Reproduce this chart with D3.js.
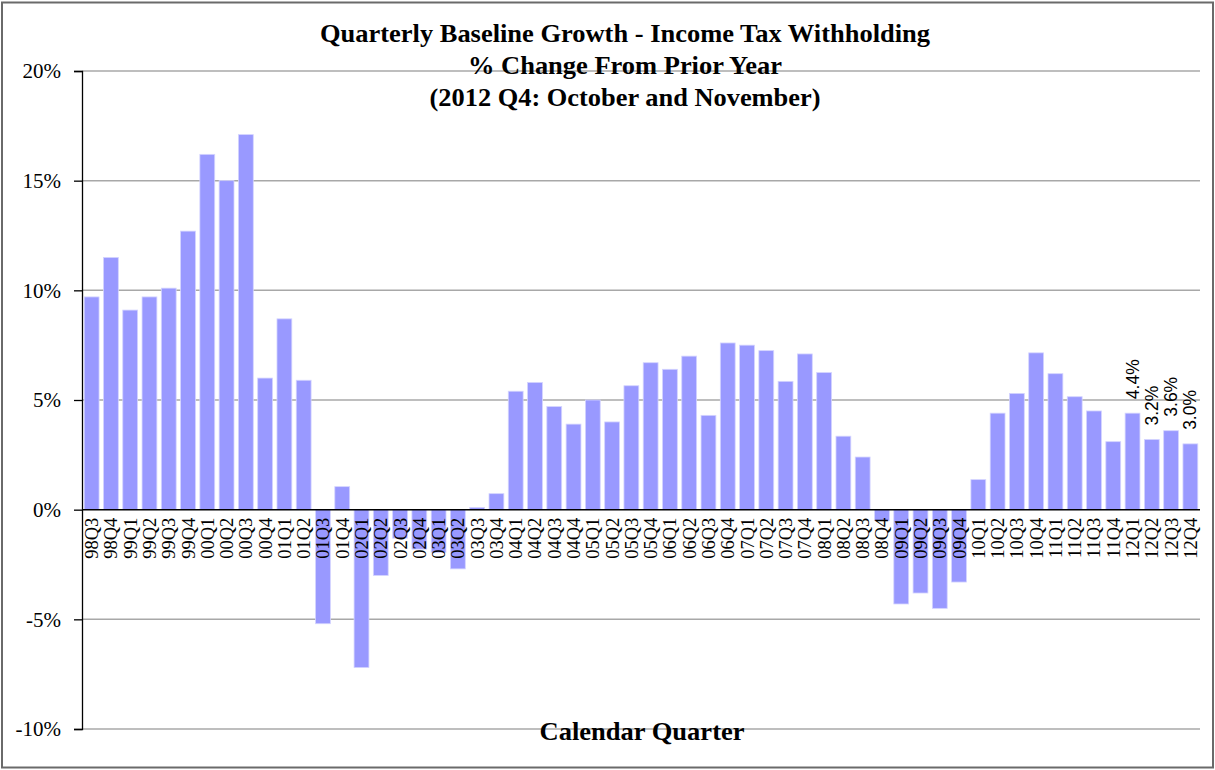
<!DOCTYPE html>
<html>
<head>
<meta charset="utf-8">
<script src="https://cdn.jsdelivr.net/npm/d3@7"></script>
<style>
  html, body { margin: 0; padding: 0; background: #fff; }
  svg { display: block; }
</style>
</head>
<body>
<svg id="chart" width="1215" height="770"></svg>
<script>
const quarters = ["98Q3","98Q4",
  "99Q1","99Q2","99Q3","99Q4",
  "00Q1","00Q2","00Q3","00Q4",
  "01Q1","01Q2","01Q3","01Q4",
  "02Q1","02Q2","02Q3","02Q4",
  "03Q1","03Q2","03Q3","03Q4",
  "04Q1","04Q2","04Q3","04Q4",
  "05Q1","05Q2","05Q3","05Q4",
  "06Q1","06Q2","06Q3","06Q4",
  "07Q1","07Q2","07Q3","07Q4",
  "08Q1","08Q2","08Q3","08Q4",
  "09Q1","09Q2","09Q3","09Q4",
  "10Q1","10Q2","10Q3","10Q4",
  "11Q1","11Q2","11Q3","11Q4",
  "12Q1","12Q2","12Q3","12Q4"];

const growth = [9.7, 11.5,
  9.1, 9.7, 10.1, 12.7,
  16.2, 15.0, 17.1, 6.0,
  8.7, 5.9, -5.2, 1.05,
  -7.2, -3.0, -1.3, -1.8,
  -1.95, -2.7, 0.1, 0.73,
  5.4, 5.8, 4.7, 3.9,
  5.0, 4.0, 5.65, 6.7,
  6.4, 7.0, 4.3, 7.6,
  7.5, 7.25, 5.85, 7.1,
  6.25, 3.35, 2.4, -0.5,
  -4.3, -3.8, -4.5, -3.3,
  1.37, 4.4, 5.3, 7.15,
  6.2, 5.15, 4.5, 3.1,
  4.4, 3.2, 3.6, 3.0];

const labelledQuarters = ["12Q1","12Q2","12Q3","12Q4"];
const yTicks = [-10, -5, 0, 5, 10, 15, 20];
const titleLines = ["Quarterly Baseline Growth - Income Tax Withholding",
                    "% Change From Prior Year",
                    "(2012 Q4: October and November)"];
const xAxisTitle = "Calendar Quarter";

const serif = "'Liberation Serif','Times New Roman',serif";
const sans = "'Liberation Sans',Arial,sans-serif";

const svg = d3.select("#chart");
const plot = {left: 82, right: 1200, top: 71, bottom: 729};

// outer border
svg.append("rect")
  .attr("x", 2).attr("y", 2.5).attr("width", 1211).attr("height", 765)
  .attr("fill", "#fff").attr("stroke", "#6a6a6a").attr("stroke-width", 2);

const x = d3.scaleBand().domain(quarters)
  .range([plot.left, plot.right]).paddingInner(0.23).paddingOuter(0.115);
const y = d3.scaleLinear().domain([-10, 20]).range([plot.bottom, plot.top]);

// gridlines
svg.append("g").selectAll("line")
  .data(yTicks.filter(t => t !== 0))
  .join("line")
  .attr("x1", plot.left).attr("x2", plot.right)
  .attr("y1", d => y(d)).attr("y2", d => y(d))
  .attr("stroke", "#a8a8a8").attr("stroke-width", 1.5);

// y axis
const yAxis = d3.axisLeft(y).tickValues(yTicks)
  .tickFormat(d => d + "%").tickSize(8).tickPadding(13);
const yg = svg.append("g").attr("transform", `translate(${plot.left},0)`).call(yAxis);
yg.select(".domain").attr("stroke", "#000").attr("stroke-width", 1.3);
yg.selectAll(".tick line").attr("stroke", "#000").attr("stroke-width", 1.3);
yg.selectAll(".tick text")
  .attr("font-family", serif).attr("font-size", 21).attr("fill", "#000");

// bars
const data = quarters.map((q, i) => ({q, v: growth[i]}));
svg.append("g").selectAll("rect")
  .data(data)
  .join("rect")
  .attr("x", d => x(d.q))
  .attr("width", x.bandwidth())
  .attr("y", d => Math.min(y(d.v), y(0)))
  .attr("height", d => Math.abs(y(d.v) - y(0)))
  .attr("fill", "#9999ff")
  .attr("stroke", "#d4d4ff").attr("stroke-width", 0.8);

// zero line
svg.append("line")
  .attr("x1", plot.left).attr("x2", plot.right)
  .attr("y1", y(0)).attr("y2", y(0))
  .attr("stroke", "#000").attr("stroke-width", 1.5);

// x tick labels
svg.append("g").selectAll("text")
  .data(quarters)
  .join("text")
  .attr("transform", d => `translate(${x(d) + x.bandwidth() / 2},${y(0) + 8}) rotate(-90)`)
  .attr("text-anchor", "end")
  .attr("dy", "0.35em")
  .attr("font-family", serif).attr("font-size", 18.5).attr("fill", "#000")
  .text(d => d);

// data labels
svg.append("g").selectAll("text")
  .data(data.filter(d => labelledQuarters.includes(d.q)))
  .join("text")
  .attr("transform", d => `translate(${x(d.q) + x.bandwidth() / 2},${y(d.v) - 14}) rotate(-90)`)
  .attr("text-anchor", "start")
  .attr("dy", "0.35em")
  .attr("font-family", sans).attr("font-size", 17.5).attr("fill", "#000")
  .text(d => d.v.toFixed(1) + "%");

// titles
const titleY = [42, 74, 106];
const titleW = [610, 314, 391];
svg.append("g").selectAll("text")
  .data(titleLines)
  .join("text")
  .attr("x", 625).attr("y", (d, i) => titleY[i])
  .attr("text-anchor", "middle")
  .attr("font-family", serif).attr("font-weight", "bold").attr("font-size", 25)
  .attr("textLength", (d, i) => titleW[i]).attr("lengthAdjust", "spacingAndGlyphs")
  .attr("fill", "#000")
  .text(d => d);

svg.append("text")
  .attr("x", 642).attr("y", 740)
  .attr("text-anchor", "middle")
  .attr("font-family", serif).attr("font-weight", "bold").attr("font-size", 25)
  .attr("textLength", 205).attr("lengthAdjust", "spacingAndGlyphs")
  .attr("fill", "#000")
  .text(xAxisTitle);
</script>
</body>
</html>
